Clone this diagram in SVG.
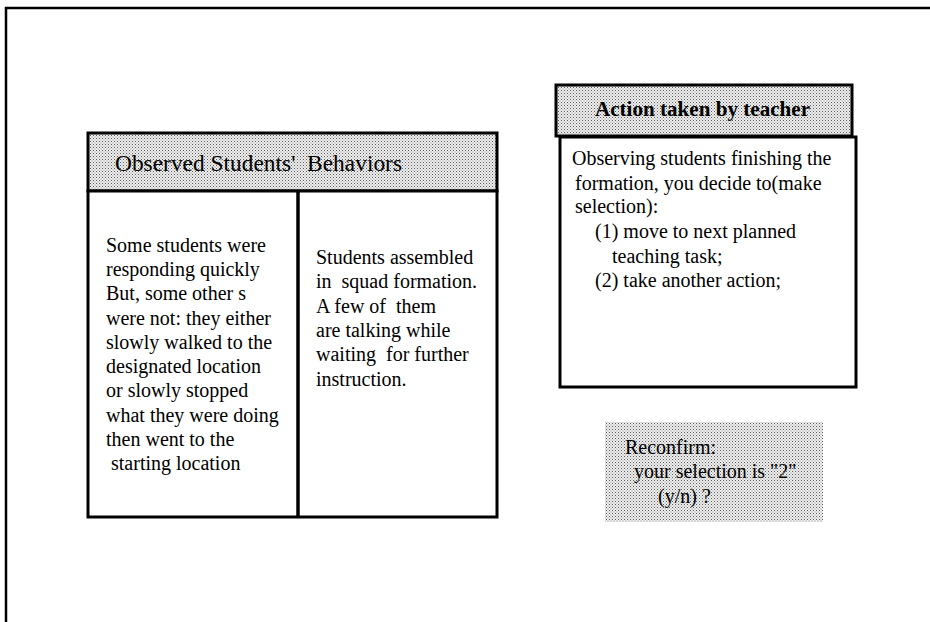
<svg xmlns="http://www.w3.org/2000/svg" width="930" height="622" viewBox="0 0 930 622">
<defs>
<pattern id="dots" width="3" height="3" patternUnits="userSpaceOnUse">
<rect width="3" height="3" fill="#efefef"/>
<rect x="0" y="0" width="1" height="1" fill="#5a5a5a"/>
<rect x="1.5" y="1.5" width="1" height="1" fill="#8a8a8a"/>
</pattern>
</defs>
<style>
.box{fill:#fff;stroke:#000;stroke-width:3}
.hdr{fill:url(#dots);stroke:#000;stroke-width:3}
.t{font-family:"Liberation Serif","Times New Roman",serif;font-size:20px;fill:#000}
.h{font-family:"Liberation Serif","Times New Roman",serif;font-size:23px;fill:#000}
.hb{font-family:"Liberation Serif","Times New Roman",serif;font-size:20px;font-weight:bold;fill:#000}
.frame{fill:none;stroke:#000;stroke-width:2.5}
</style>
<rect width="930" height="622" fill="#fff"/>
<path class="frame" d="M930,8 H6 V622"/>
<g id="observed-behaviors">
<rect class="hdr" x="88" y="133" width="409" height="58"/>
<text class="h" x="115" y="171" xml:space="preserve" textLength="287" lengthAdjust="spacingAndGlyphs">Observed Students'  Behaviors</text>
<rect class="box" x="88" y="191" width="409" height="326"/>
<line x1="298" y1="191" x2="298" y2="517" stroke="#000" stroke-width="3.5"/>
<text class="t" xml:space="preserve"><tspan x="106" y="252">Some students were</tspan><tspan x="106" y="276">responding quickly</tspan><tspan x="106" y="300">But, some other s</tspan><tspan x="106" y="325">were not: they either</tspan><tspan x="106" y="349">slowly walked to the</tspan><tspan x="106" y="373">designated location</tspan><tspan x="106" y="397">or slowly stopped</tspan><tspan x="106" y="422">what they were doing</tspan><tspan x="106" y="446">then went to the</tspan><tspan x="106" y="470"> starting location</tspan></text>
<text class="t" xml:space="preserve"><tspan x="316" y="264">Students assembled</tspan><tspan x="316" y="288">in  squad formation.</tspan><tspan x="316" y="313">A few of  them</tspan><tspan x="316" y="337">are talking while</tspan><tspan x="316" y="361">waiting  for further</tspan><tspan x="316" y="386">instruction.</tspan></text>
</g>
<g id="action-by-teacher">
<rect class="hdr" x="556" y="85" width="296" height="51"/>
<text class="hb" x="595" y="116" textLength="215" lengthAdjust="spacingAndGlyphs">Action taken by teacher</text>
<rect class="box" x="560" y="137" width="296" height="250"/>
<text class="t" xml:space="preserve"><tspan x="572" y="165">Observing students finishing the</tspan><tspan x="575" y="190">formation, you decide to(make</tspan><tspan x="575" y="213">selection):</tspan><tspan x="595" y="238">(1) move to next planned</tspan><tspan x="612" y="263">teaching task;</tspan><tspan x="595" y="287">(2) take another action;</tspan></text>
</g>
<g id="reconfirm">
<rect x="605" y="422" width="218" height="100" fill="url(#dots)"/>
<text class="t" xml:space="preserve"><tspan x="625" y="454">Reconfirm:</tspan><tspan x="634" y="478">your selection is "2"</tspan><tspan x="658" y="503">(y/n) ?</tspan></text>
</g>
<g id="connectors"/>
</svg>
